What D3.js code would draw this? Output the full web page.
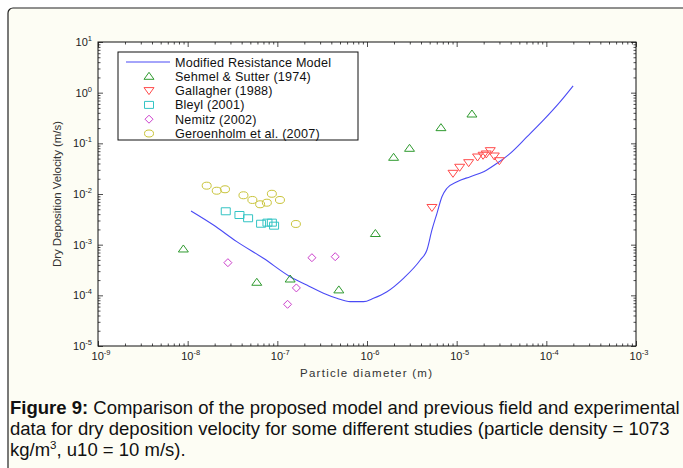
<!DOCTYPE html>
<html>
<head>
<meta charset="utf-8">
<script src="https://cdn.jsdelivr.net/npm/d3@7"></script>
<style>
  body { margin: 0; background: #fff; }
  svg { display: block; font-family: "Liberation Sans", Arial, sans-serif; }
</style>
</head>
<body>
<svg id="chart" width="683" height="468"></svg>
<script>
// Dry deposition velocity vs particle diameter (Figure 9)

// model curve
const modelDiameter = [1.09e-8, 1.94e-8, 3.53e-8, 7.0e-8, 1.39e-7, 2.13e-7, 3.27e-7, 4.61e-7, 6.50e-7, 9.14e-7,
    1.18e-6, 1.67e-6, 2.55e-6, 3.93e-6, 4.66e-6, 5.30e-6, 6.03e-6, 6.85e-6, 7.80e-6, 1.01e-5,
    1.42e-5, 2.0e-5, 2.82e-5, 3.96e-5, 6.10e-5, 9.33e-5, 1.43e-4, 1.99e-4];
const modelVelocity = [4.62e-3, 2.44e-3, 1.15e-3, 5.38e-4, 2.33e-4, 1.60e-4, 1.10e-4, 8.75e-5, 7.50e-5, 7.50e-5,
    8.75e-5, 1.18e-4, 2.17e-4, 4.99e-4, 7.85e-4, 1.95e-3, 4.16e-3, 8.85e-3, 1.30e-2, 1.75e-2,
    2.20e-2, 2.75e-2, 4.04e-2, 6.35e-2, 0.135, 0.289, 0.664, 1.36];

// Sehmel & Sutter (1974)
const sehmelDiameter = [8.95e-9, 5.90e-8, 1.39e-7, 4.85e-7, 1.24e-6, 1.98e-6, 2.98e-6, 6.68e-6, 1.48e-5];
const sehmelVelocity = [8.22e-4, 1.81e-4, 2.10e-4, 1.28e-4, 1.66e-3, 5.30e-2, 7.98e-2, 0.204, 0.379];

// Gallagher (1988)
const gallagherDiameter = [5.30e-6, 9.10e-6, 1.08e-5, 1.36e-5, 1.71e-5, 1.97e-5, 2.14e-5, 2.37e-5, 2.63e-5, 2.99e-5];
const gallagherVelocity = [5.42e-3, 2.56e-2, 3.37e-2, 4.15e-2, 5.37e-2, 5.81e-2, 6.17e-2, 7.16e-2, 5.62e-2, 4.54e-2];

// Bleyl (2001)
const bleylDiameter = [2.66e-8, 3.78e-8, 4.72e-8, 6.59e-8, 7.76e-8, 8.69e-8, 9.20e-8];
const bleylVelocity = [4.56e-3, 3.85e-3, 3.32e-3, 2.59e-3, 2.72e-3, 2.72e-3, 2.37e-3];

// Nemitz (2002)
const nemitzDiameter = [2.81e-8, 1.30e-7, 1.63e-7, 2.43e-7, 4.42e-7];
const nemitzVelocity = [4.41e-4, 6.65e-5, 1.40e-4, 5.53e-4, 5.79e-4];

// Geroenholm et al. (2007)
const geroDiameter = [1.63e-8, 2.11e-8, 2.61e-8, 4.19e-8, 5.27e-8, 6.43e-8, 7.64e-8, 8.69e-8, 1.07e-7, 1.61e-7];
const geroVelocity = [1.46e-2, 1.16e-2, 1.24e-2, 9.44e-3, 7.62e-3, 6.27e-3, 6.73e-3, 1.01e-2, 7.62e-3, 2.56e-3];

const xTickValues = [1e-9, 1e-8, 1e-7, 1e-6, 1e-5, 1e-4, 1e-3];
const yTickValues = [1e-5, 1e-4, 1e-3, 1e-2, 1e-1, 1e0, 1e1];

const legendLabels = ["Modified Resistance Model", "Sehmel & Sutter (1974)", "Gallagher (1988)",
    "Bleyl (2001)", "Nemitz (2002)", "Geroenholm et al. (2007)"];

const captionLines = [
    "Comparison of the proposed model and previous field and experimental",
    "data for dry deposition velocity for some different studies (particle density = 1073",
    "kg/m", "3", ", u10 = 10 m/s)."
];

// ---------------------------------------------------------------
const svg = d3.select("#chart");
const plot = { left: 98, right: 636, top: 42, bottom: 346 };

const x = d3.scaleLog().domain([1e-9, 1e-3]).range([plot.left, plot.right]);
const y = d3.scaleLog().domain([1e-5, 1e1]).range([plot.bottom, plot.top]);

const series = [
    { label: legendLabels[1], d: sehmelDiameter, v: sehmelVelocity, shape: "up", color: "#2f9a2f" },
    { label: legendLabels[2], d: gallagherDiameter, v: gallagherVelocity, shape: "down", color: "#ff4a4a" },
    { label: legendLabels[3], d: bleylDiameter, v: bleylVelocity, shape: "square", color: "#33c4c4" },
    { label: legendLabels[4], d: nemitzDiameter, v: nemitzVelocity, shape: "diamond", color: "#cc3fcc" },
    { label: legendLabels[5], d: geroDiameter, v: geroVelocity, shape: "circle", color: "#c9c43a" }
];

function markerPath(shape) {
    if (shape === "up") return "M0,-4L5,3L-5,3Z";
    if (shape === "down") return "M0,4L5,-3L-5,-3Z";
    if (shape === "square") return "M-4.5,-3.5h9v7h-9Z";
    if (shape === "diamond") return "M0,-4L4,0L0,4L-4,0Z";
    return "M-4.5,0A4.5,3.5 0 1,0 4.5,0A4.5,3.5 0 1,0 -4.5,0Z";
}

// outer panel
svg.append("rect")
    .attr("x", 8).attr("y", 8)
    .attr("width", 700).attr("height", 480)
    .attr("rx", 5)
    .attr("fill", "#fdfdf4")
    .attr("stroke", "#222")
    .attr("stroke-width", 1.2);

// plot area
svg.append("rect")
    .attr("x", plot.left).attr("y", plot.top)
    .attr("width", plot.right - plot.left)
    .attr("height", plot.bottom - plot.top)
    .attr("fill", "#fff");

// minor tick values for each decade
function minorTicks(ticks) {
    const out = [];
    ticks.slice(0, -1).forEach(t => {
        for (let k = 2; k <= 9; k++) out.push(t * k);
    });
    return out;
}

function drawAxis(axisFn, scale, ticks, transform) {
    const gMinor = svg.append("g")
        .attr("transform", transform)
        .call(axisFn(scale).tickValues(minorTicks(ticks)).tickSize(-2.5).tickFormat(""));
    gMinor.select(".domain").remove();
    const g = svg.append("g")
        .attr("transform", transform)
        .call(axisFn(scale).tickValues(ticks).tickSize(-5).tickFormat(""));
    g.select(".domain").remove();
    svg.selectAll(".tick line").attr("stroke", "#222").attr("stroke-width", 0.8);
    return g;
}

drawAxis(d3.axisBottom, x, xTickValues, `translate(0,${plot.bottom})`);
drawAxis(d3.axisTop, x, xTickValues, `translate(0,${plot.top})`);
drawAxis(d3.axisLeft, y, yTickValues, `translate(${plot.left},0)`);
drawAxis(d3.axisRight, y, yTickValues, `translate(${plot.right},0)`);

// frame
svg.append("rect")
    .attr("x", plot.left).attr("y", plot.top)
    .attr("width", plot.right - plot.left)
    .attr("height", plot.bottom - plot.top)
    .attr("fill", "none")
    .attr("stroke", "#111")
    .attr("stroke-width", 1);

// power-of-ten tick labels
function powerLabel(parent, value, px, py, anchor) {
    const exp = Math.round(Math.log10(value));
    const t = parent.append("text")
        .attr("x", px).attr("y", py)
        .attr("text-anchor", anchor)
        .attr("fill", "#222")
        .attr("font-size", 11);
    t.append("tspan").text("10");
    t.append("tspan").attr("dy", -5).attr("font-size", 7.5).text(exp);
    return t;
}

const labels = svg.append("g");
xTickValues.forEach(v => powerLabel(labels, v, x(v) + 3, 360, "middle"));
yTickValues.forEach(v => powerLabel(labels, v, 92, y(v) + 4, "end"));

svg.append("text")
    .attr("x", (plot.left + plot.right) / 2 - 1)
    .attr("y", 377)
    .attr("text-anchor", "middle")
    .attr("fill", "#333")
    .attr("font-size", 11.5)
    .attr("textLength", 132)
    .attr("lengthAdjust", "spacing")
    .text("Particle diameter (m)");

svg.append("text")
    .attr("transform", `translate(61,${(plot.top + plot.bottom) / 2}) rotate(-90)`)
    .attr("text-anchor", "middle")
    .attr("fill", "#333")
    .attr("font-size", 11.5)
    .attr("textLength", 146)
    .attr("lengthAdjust", "spacing")
    .text("Dry Deposition Velocity (m/s)");

// model line
const line = d3.line()
    .x((d, i) => x(modelDiameter[i]))
    .y(d => y(d))
    .curve(d3.curveMonotoneX);

svg.append("path")
    .datum(modelVelocity)
    .attr("d", line)
    .attr("fill", "none")
    .attr("stroke", "#4a4af5")
    .attr("stroke-width", 1.1);

// observations
series.forEach(s => {
    svg.append("g")
        .selectAll("path")
        .data(s.d)
        .join("path")
        .attr("transform", (d, i) => `translate(${x(d)},${y(s.v[i])})`)
        .attr("d", markerPath(s.shape))
        .attr("fill", "none")
        .attr("stroke", s.color)
        .attr("stroke-width", 1);
});

// legend
const legend = svg.append("g");
legend.append("rect")
    .attr("x", 118).attr("y", 52)
    .attr("width", 240).attr("height", 88)
    .attr("fill", "#fff")
    .attr("stroke", "#111")
    .attr("stroke-width", 1);

const rowY = i => 62 + i * 14.3;

legend.append("line")
    .attr("x1", 126).attr("x2", 170)
    .attr("y1", rowY(0)).attr("y2", rowY(0))
    .attr("stroke", "#4a4af5")
    .attr("stroke-width", 1.1);

series.forEach((s, i) => {
    legend.append("path")
        .attr("transform", `translate(149,${rowY(i + 1)})`)
        .attr("d", markerPath(s.shape))
        .attr("fill", "none")
        .attr("stroke", s.color)
        .attr("stroke-width", 1);
});

legendLabels.forEach((label, i) => {
    legend.append("text")
        .attr("x", 175)
        .attr("y", rowY(i) + 4.5)
        .attr("fill", "#111")
        .attr("font-size", 12.6)
        .attr("letter-spacing", 0.2)
        .text(label);
});

// caption
const captionSize = 18.5;
const caption = svg.append("g");
const line1 = caption.append("text")
    .attr("x", 0).attr("y", 414)
    .attr("font-size", captionSize)
    .attr("fill", "#111");
line1.append("tspan").attr("font-weight", "bold").text("Figure 9:");
line1.append("tspan").text(" " + captionLines[0]);

caption.append("text")
    .attr("x", 0).attr("y", 435)
    .attr("font-size", captionSize)
    .attr("fill", "#111")
    .text(captionLines[1]);

const line3 = caption.append("text")
    .attr("x", 0).attr("y", 456)
    .attr("font-size", captionSize)
    .attr("fill", "#111");
line3.append("tspan").text(captionLines[2]);
line3.append("tspan").attr("font-size", 11.5).attr("dy", -7).text(captionLines[3]);
line3.append("tspan").attr("dy", 7).text(captionLines[4]);

// the caption face is narrower than Arial, so squeeze it to the panel width
const w1 = line1.node().getComputedTextLength();
caption.attr("transform", `translate(10,0) scale(${670 / w1},1)`);
</script>
</body>
</html>
